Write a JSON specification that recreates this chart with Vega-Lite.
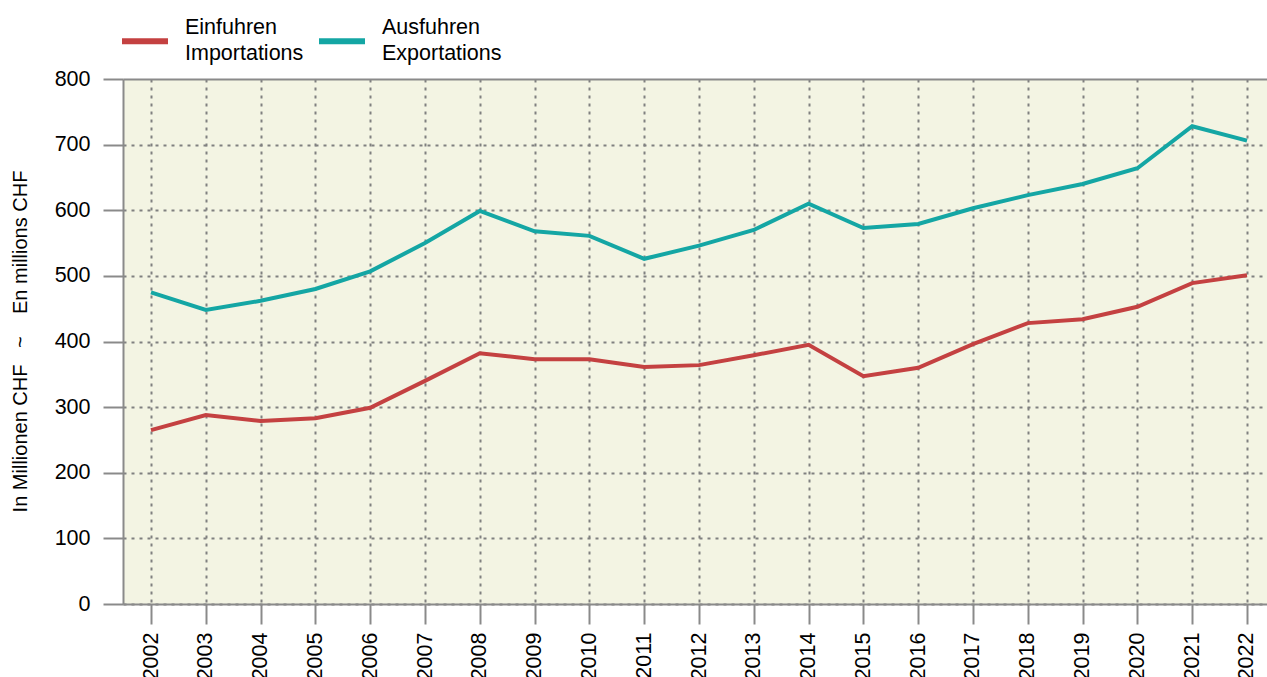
{
  "$schema": "https://vega.github.io/schema/vega-lite/v6.json",
  "autosize": "none",
  "padding": {"left": 123, "top": 79, "right": 0, "bottom": 73},
  "width": 1144,
  "height": 525,
  "background": "white",
  "config": {
    "view": {"stroke": null, "fill": "#F3F4E3"},
    "font": "Liberation Sans"
  },
  "data": {
    "values": [
      {"year": 2002, "series": "Einfuhren|Importations", "value": 265},
      {"year": 2003, "series": "Einfuhren|Importations", "value": 288},
      {"year": 2004, "series": "Einfuhren|Importations", "value": 279},
      {"year": 2005, "series": "Einfuhren|Importations", "value": 283},
      {"year": 2006, "series": "Einfuhren|Importations", "value": 299},
      {"year": 2007, "series": "Einfuhren|Importations", "value": 340},
      {"year": 2008, "series": "Einfuhren|Importations", "value": 382},
      {"year": 2009, "series": "Einfuhren|Importations", "value": 373},
      {"year": 2010, "series": "Einfuhren|Importations", "value": 373},
      {"year": 2011, "series": "Einfuhren|Importations", "value": 361},
      {"year": 2012, "series": "Einfuhren|Importations", "value": 364},
      {"year": 2013, "series": "Einfuhren|Importations", "value": 379},
      {"year": 2014, "series": "Einfuhren|Importations", "value": 395},
      {"year": 2015, "series": "Einfuhren|Importations", "value": 347},
      {"year": 2016, "series": "Einfuhren|Importations", "value": 360},
      {"year": 2017, "series": "Einfuhren|Importations", "value": 396},
      {"year": 2018, "series": "Einfuhren|Importations", "value": 428},
      {"year": 2019, "series": "Einfuhren|Importations", "value": 434},
      {"year": 2020, "series": "Einfuhren|Importations", "value": 453},
      {"year": 2021, "series": "Einfuhren|Importations", "value": 489},
      {"year": 2022, "series": "Einfuhren|Importations", "value": 501},
      {"year": 2002, "series": "Ausfuhren|Exportations", "value": 475},
      {"year": 2003, "series": "Ausfuhren|Exportations", "value": 448},
      {"year": 2004, "series": "Ausfuhren|Exportations", "value": 462},
      {"year": 2005, "series": "Ausfuhren|Exportations", "value": 480},
      {"year": 2006, "series": "Ausfuhren|Exportations", "value": 507},
      {"year": 2007, "series": "Ausfuhren|Exportations", "value": 550},
      {"year": 2008, "series": "Ausfuhren|Exportations", "value": 599},
      {"year": 2009, "series": "Ausfuhren|Exportations", "value": 568},
      {"year": 2010, "series": "Ausfuhren|Exportations", "value": 561},
      {"year": 2011, "series": "Ausfuhren|Exportations", "value": 526},
      {"year": 2012, "series": "Ausfuhren|Exportations", "value": 546},
      {"year": 2013, "series": "Ausfuhren|Exportations", "value": 570},
      {"year": 2014, "series": "Ausfuhren|Exportations", "value": 610},
      {"year": 2015, "series": "Ausfuhren|Exportations", "value": 573},
      {"year": 2016, "series": "Ausfuhren|Exportations", "value": 579},
      {"year": 2017, "series": "Ausfuhren|Exportations", "value": 603},
      {"year": 2018, "series": "Ausfuhren|Exportations", "value": 623},
      {"year": 2019, "series": "Ausfuhren|Exportations", "value": 640},
      {"year": 2020, "series": "Ausfuhren|Exportations", "value": 664},
      {"year": 2021, "series": "Ausfuhren|Exportations", "value": 728},
      {"year": 2022, "series": "Ausfuhren|Exportations", "value": 706}
    ]
  },
  "mark": {"type": "line", "strokeWidth": 4},
  "encoding": {
    "x": {
      "field": "year",
      "type": "quantitative",
      "scale": {"domain": [2001.489, 2022.365], "nice": false, "zero": false},
      "axis": {
        "title": null,
        "values": [2002,2003,2004,2005,2006,2007,2008,2009,2010,2011,2012,2013,2014,2015,2016,2017,2018,2019,2020,2021,2022],
        "format": "d",
        "labelAngle": 270,
        "labelAlign": "right",
        "labelBaseline": "middle",
        "labelFontSize": 21.5,
        "labelColor": "#000000",
        "labelPadding": 8,
        "labelOverlap": false,
        "labelFlush": false,
        "tickSize": 20,
        "tickColor": "#8a8a8a",
        "tickWidth": 2,
        "domainColor": "#8a8a8a",
        "domainWidth": 2,
        "grid": true,
        "gridColor": "#808080",
        "gridDash": [3, 5],
        "gridWidth": 2
      }
    },
    "y": {
      "field": "value",
      "type": "quantitative",
      "scale": {"domain": [0, 800], "nice": false},
      "axis": {
        "title": "In Millionen CHF\u00a0\u00a0\u00a0~\u00a0\u00a0\u00a0\u00a0En millions CHF",
        "titleFontSize": 20,
        "titleFontWeight": "normal",
        "titleColor": "#000000",
        "titleAngle": 270,
        "titleBaseline": "middle",
        "titleAlign": "center",
        "titleX": -103,
        "titleY": 262,
        "values": [0,100,200,300,400,500,600,700,800],
        "labelFontSize": 21.5,
        "labelColor": "#000000",
        "labelPadding": 13,
        "tickSize": 20,
        "tickColor": "#8a8a8a",
        "tickWidth": 2,
        "domainColor": "#8a8a8a",
        "domainWidth": 2,
        "grid": true,
        "gridColor": {"condition": {"test": "datum.value == 800", "value": "#8a8a8a"}, "value": "#808080"},
        "gridDash": {"condition": {"test": "datum.value == 800", "value": []}, "value": [3, 5]},
        "gridWidth": 2
      }
    },
    "color": {
      "field": "series",
      "type": "nominal",
      "scale": {
        "domain": ["Einfuhren|Importations", "Ausfuhren|Exportations"],
        "range": ["#C44141", "#14A6A4"]
      },
      "legend": {
        "title": null,
        "orient": "none",
        "direction": "horizontal",
        "legendX": -4,
        "legendY": -64,
        "padding": 0,
        "symbolType": "stroke",
        "symbolSize": 2116,
        "symbolStrokeWidth": 6,
        "labelFontSize": 21.5,
        "labelColor": "#000000",
        "labelOffset": 14,
        "labelLimit": 400,
        "columnPadding": 3,
        "labelExpr": "split(datum.label, '|')",
        "encode": {"labels": {"update": {"lineHeight": {"value": 26}, "dy": {"value": -13}}}}
      }
    }
  }
}
